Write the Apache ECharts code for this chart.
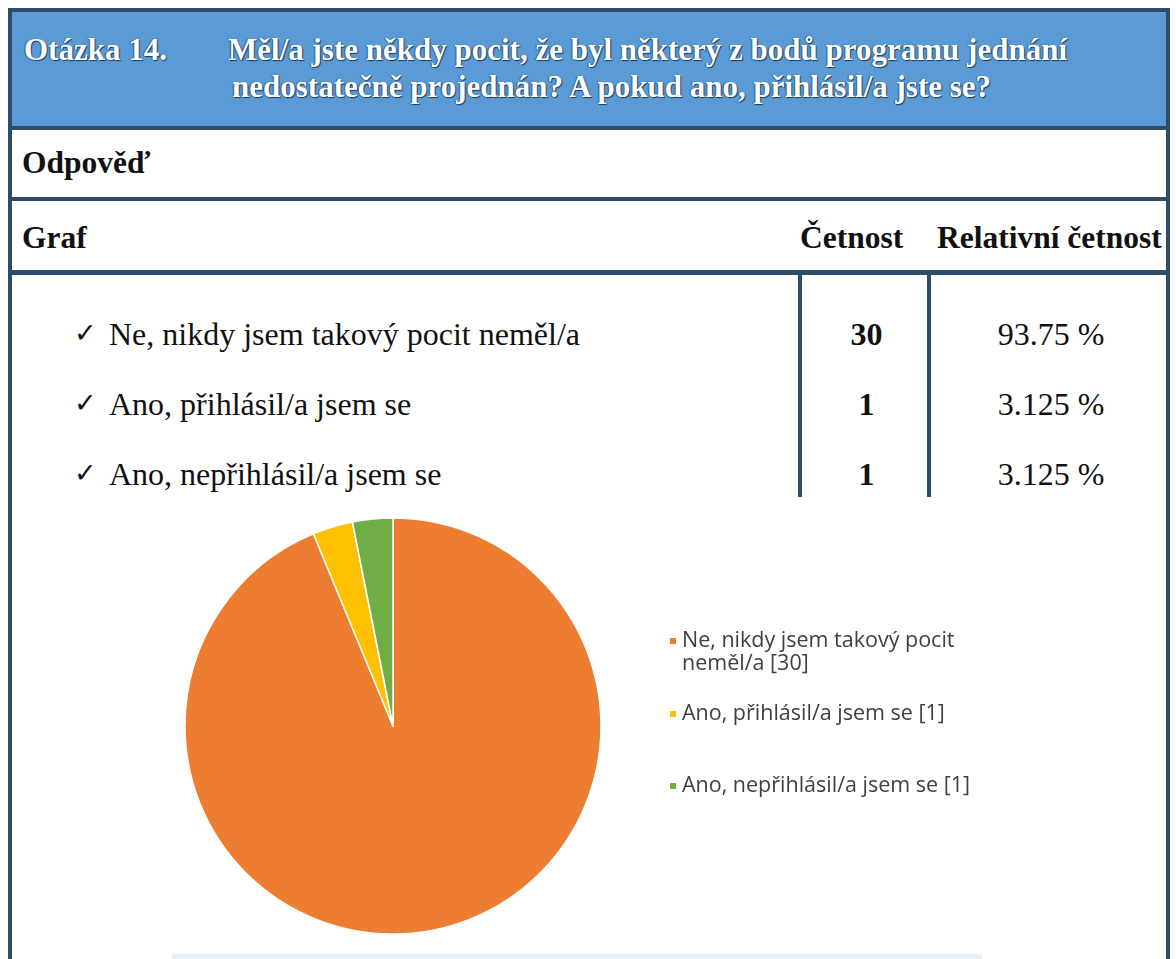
<!DOCTYPE html>
<html><head><meta charset="utf-8">
<script src="https://cdn.jsdelivr.net/npm/echarts@6/dist/echarts.min.js"></script>
<style>
html,body{margin:0;padding:0;background:#fff;width:1176px;height:959px;overflow:hidden;}
.a{position:absolute;white-space:nowrap;}
.serif{font-family:"Liberation Serif","Times New Roman","DejaVu Serif",serif;}
.hl{position:absolute;background:#2d4c6b;}
.hdr{color:#fff;font-weight:bold;font-size:31px;text-shadow:1px 1px 1px #1d3b5c,-1px 0 1px #2f5f8f;}
.b{font-weight:bold;color:#111;font-size:31.5px;}
.r{color:#111;font-size:32px;}
#chart{position:absolute;left:12px;top:500px;width:1154px;height:459px;}
</style></head>
<body>
<div id="page"></div>
<div id="chart"></div>
<script>
// ---- data ----
var questionLabel = "Otázka 14.";
var questionLines = ["Měl/a jste někdy pocit, že byl některý z bodů programu jednání",
                     "nedostatečně projednán? A pokud ano, přihlásil/a jste se?"];
var sectionAnswer = "Odpověď";
var colGraph = "Graf";
var colFreq = "Četnost";
var colRel = "Relativní četnost";
var categories = ["Ne, nikdy jsem takový pocit neměl/a", "Ano, přihlásil/a jsem se", "Ano, nepřihlásil/a jsem se"];
var counts = [30, 1, 1];
var relative = ["93.75 %", "3.125 %", "3.125 %"];
var colors = ["#ED7D31", "#FFC000", "#70AD47"];

// ---- table layout (HTML) ----
var page = document.getElementById('page');
function add(html){ page.insertAdjacentHTML('beforeend', html); }
add('<div style="position:absolute;left:8px;top:8px;width:1162px;height:122px;background:#5B9BD5;"></div>');
add('<div style="position:absolute;left:172px;top:954px;width:810px;height:5px;background:#e6f0fa;"></div>');
add('<div class="hl" style="left:8px;top:8px;width:1162px;height:4px"></div>');
add('<div class="hl" style="left:8px;top:8px;width:4px;height:951px"></div>');
add('<div class="hl" style="left:1166px;top:8px;width:4px;height:951px"></div>');
add('<div class="hl" style="left:8px;top:126px;width:1162px;height:4px"></div>');
add('<div class="hl" style="left:8px;top:197px;width:1162px;height:4px"></div>');
add('<div class="hl" style="left:8px;top:270px;width:1162px;height:5px"></div>');
add('<div class="hl" style="left:798px;top:275px;width:4px;height:222px"></div>');
add('<div class="hl" style="left:927px;top:275px;width:4px;height:222px"></div>');
add('<div class="a serif hdr" style="left:24px;top:33px;line-height:34px">'+questionLabel+'</div>');
add('<div class="a serif hdr" style="left:228px;top:33px;line-height:34px">'+questionLines[0]+'</div>');
add('<div class="a serif hdr" style="left:232px;top:70px;line-height:34px">'+questionLines[1]+'</div>');
add('<div class="a serif b" style="left:22px;top:146px;line-height:34px">'+sectionAnswer+'</div>');
add('<div class="a serif b" style="left:22px;top:221px;line-height:34px">'+colGraph+'</div>');
add('<div class="a serif b" style="left:800px;top:221px;line-height:34px">'+colFreq+'</div>');
add('<div class="a serif b" style="left:937px;top:221px;line-height:34px">'+colRel+'</div>');
var rowY = [334, 404, 474];
for (var i=0;i<categories.length;i++){
  var t = rowY[i]-18;
  add('<div class="a" style="left:74px;top:'+(t-1)+'px;line-height:36px;font-family:\'DejaVu Sans\';font-size:27px;color:#111">✓</div>');
  add('<div class="a serif r" style="left:109px;top:'+t+'px;line-height:36px">'+categories[i]+'</div>');
  add('<div class="a serif r" style="left:804px;width:125px;text-align:center;top:'+t+'px;line-height:36px;font-weight:bold">'+counts[i]+'</div>');
  add('<div class="a serif r" style="left:933px;width:236px;text-align:center;top:'+t+'px;line-height:36px">'+relative[i]+'</div>');
}

// ---- pie chart (ECharts) ----
var chart = echarts.init(document.getElementById('chart'), null, {renderer:'canvas'});
var pieData = categories.map(function(c,i){ return {name:c, value:counts[i], itemStyle:{color:colors[i]}}; });
var legendTops = [106.5, 202.5, 274.5];
var legends = categories.map(function(c,i){
  return {
    show:true, orient:'vertical', left:656, top:legendTops[i], padding:0,
    data:[c], icon:'rect', itemWidth:8, itemHeight:8, selectedMode:false,
    formatter:function(name){
      var s = name + ' [' + counts[categories.indexOf(name)] + ']';
      return i===0 ? '\n' + s : s;
    },
    textStyle:{fontFamily:'Open Sans', fontSize:21.5, color:'#404040', lineHeight:23,
      width: i===0 ? 310 : 400, overflow:'break'}
  };
});
chart.setOption({
  animation:false,
  legend: legends,
  series:[{
    type:'pie', center:[381,226], radius:208, startAngle:90, clockwise:true,
    label:{show:false}, labelLine:{show:false}, silent:true,
    itemStyle:{borderColor:'#fff', borderWidth:1.5},
    data: pieData
  }]
});
</script>
</body></html>
